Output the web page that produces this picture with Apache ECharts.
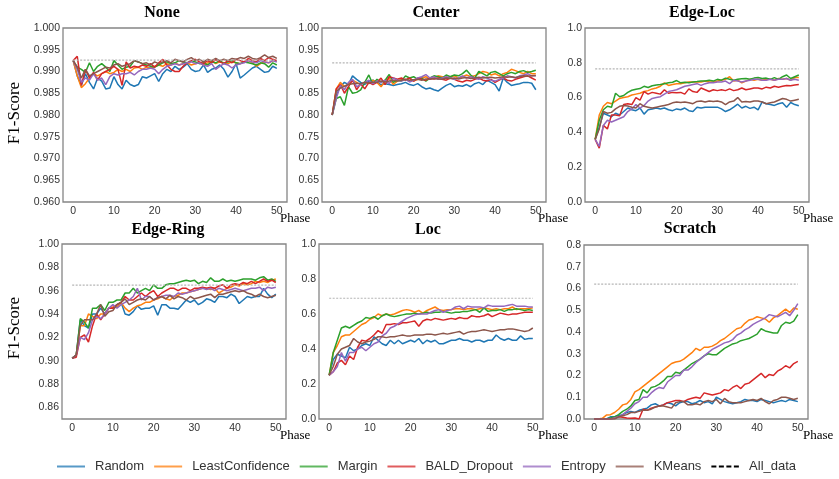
<!DOCTYPE html>
<html>
<head>
<meta charset="utf-8">
<script src="https://cdn.jsdelivr.net/npm/echarts@6/dist/echarts.min.js"></script>
<style>html,body{margin:0;padding:0;background:#fff;}#c{width:839px;height:479px;}</style>
</head>
<body>
<div id="c"></div>
<script>
// ---------- data ----------
const phases = Array.from({length: 51}, (_, i) => i);
const methods = ['Random', 'LeastConfidence', 'Margin', 'BALD_Dropout', 'Entropy', 'KMeans'];
const colors = ['#1f77b4', '#ff7f0e', '#2ca02c', '#d62728', '#9467bd', '#8c564b'];
const titles = ['None', 'Center', 'Edge-Loc', 'Edge-Ring', 'Loc', 'Scratch'];
const allData = [0.9926, 0.92, 0.765, 0.9648, 0.69, 0.62];

const noneRandom = [0.9925,0.9890,0.9868,0.9895,0.9875,0.9860,0.9885,0.9878,0.9860,0.9862,
0.9888,0.9870,0.9860,0.9880,0.9870,0.9866,0.9870,0.9888,0.9885,0.9890,
0.9895,0.9877,0.9895,0.9905,0.9900,0.9912,0.9905,0.9910,0.9918,0.9905,
0.9900,0.9902,0.9915,0.9898,0.9905,0.9908,0.9915,0.9905,0.9887,0.9900,
0.9918,0.9885,0.9892,0.9900,0.9908,0.9912,0.9905,0.9898,0.9900,0.9912,0.9907];
const noneLC = [0.9925,0.9890,0.9863,0.9872,0.9885,0.9895,0.9890,0.9895,0.9900,0.9895,
0.9898,0.9905,0.9900,0.9905,0.9900,0.9908,0.9910,0.9905,0.9910,0.9908,
0.9912,0.9915,0.9912,0.9918,0.9915,0.9920,0.9915,0.9918,0.9920,0.9915,
0.9918,0.9920,0.9915,0.9920,0.9925,0.9918,0.9922,0.9920,0.9918,0.9922,
0.9920,0.9918,0.9922,0.9925,0.9920,0.9912,0.9918,0.9922,0.9920,0.9925,0.9925];
const noneMargin = [0.9925,0.9910,0.9905,0.9898,0.9920,0.9900,0.9912,0.9918,0.9910,0.9900,
0.9925,0.9915,0.9905,0.9910,0.9912,0.9925,0.9922,0.9918,0.9915,0.9912,
0.9910,0.9915,0.9920,0.9922,0.9918,0.9920,0.9925,0.9922,0.9920,0.9925,
0.9922,0.9918,0.9920,0.9915,0.9922,0.9920,0.9925,0.9918,0.9922,0.9925,
0.9920,0.9918,0.9922,0.9920,0.9918,0.9915,0.9920,0.9918,0.9910,0.9920,0.9915];
const noneBALD = [0.9925,0.9935,0.9868,0.9905,0.9885,0.9898,0.9880,0.9895,0.9900,0.9905,
0.9912,0.9905,0.9868,0.9922,0.9908,0.9912,0.9910,0.9915,0.9912,0.9918,
0.9910,0.9920,0.9928,0.9915,0.9905,0.9900,0.9900,0.9912,0.9920,0.9925,
0.9928,0.9922,0.9918,0.9925,0.9920,0.9928,0.9922,0.9918,0.9925,0.9920,
0.9928,0.9925,0.9922,0.9930,0.9925,0.9922,0.9930,0.9925,0.9932,0.9928,0.9925];
const noneEntropy = [0.9925,0.9905,0.9875,0.9885,0.9880,0.9895,0.9880,0.9885,0.9870,0.9888,
0.9895,0.9892,0.9895,0.9895,0.9898,0.9892,0.9900,0.9905,0.9905,0.9908,
0.9905,0.9895,0.9905,0.9912,0.9915,0.9918,0.9915,0.9918,0.9920,0.9922,
0.9918,0.9920,0.9915,0.9912,0.9918,0.9905,0.9912,0.9918,0.9915,0.9908,
0.9915,0.9918,0.9920,0.9925,0.9922,0.9920,0.9925,0.9922,0.9920,0.9925,0.9922];
const noneKMeans = [0.9925,0.9910,0.9885,0.9905,0.9890,0.9895,0.9900,0.9905,0.9910,0.9908,
0.9915,0.9918,0.9912,0.9915,0.9918,0.9925,0.9922,0.9918,0.9920,0.9915,
0.9922,0.9918,0.9922,0.9925,0.9920,0.9928,0.9925,0.9922,0.9928,0.9932,
0.9925,0.9928,0.9922,0.9928,0.9925,0.9930,0.9925,0.9928,0.9925,0.9930,
0.9928,0.9932,0.9930,0.9935,0.9930,0.9928,0.9932,0.9938,0.9932,0.9935,0.9930];

const centerRandom = [0.80,0.845,0.865,0.875,0.870,0.890,0.882,0.875,0.870,0.878,
0.880,0.875,0.870,0.872,0.870,0.868,0.870,0.872,0.875,0.870,
0.868,0.872,0.865,0.860,0.862,0.858,0.855,0.862,0.868,0.872,
0.865,0.868,0.866,0.870,0.865,0.872,0.875,0.870,0.880,0.875,
0.870,0.855,0.885,0.875,0.868,0.870,0.872,0.875,0.875,0.873,0.858];
const centerLC = [0.80,0.860,0.875,0.865,0.872,0.880,0.875,0.870,0.876,0.872,
0.880,0.875,0.865,0.878,0.885,0.870,0.878,0.882,0.880,0.885,
0.878,0.882,0.885,0.888,0.882,0.885,0.890,0.888,0.885,0.888,
0.890,0.885,0.888,0.892,0.888,0.890,0.895,0.900,0.898,0.892,
0.895,0.890,0.895,0.898,0.905,0.902,0.898,0.895,0.900,0.895,0.895];
const centerMargin = [0.80,0.838,0.842,0.822,0.865,0.850,0.852,0.858,0.875,0.892,
0.870,0.882,0.875,0.880,0.893,0.875,0.880,0.878,0.890,0.885,
0.888,0.882,0.885,0.878,0.885,0.890,0.888,0.885,0.892,0.888,
0.892,0.890,0.895,0.903,0.892,0.885,0.900,0.895,0.890,0.898,
0.900,0.895,0.890,0.895,0.898,0.895,0.900,0.902,0.898,0.900,0.903];
const centerBALD = [0.80,0.860,0.870,0.850,0.865,0.880,0.858,0.872,0.860,0.875,
0.870,0.875,0.885,0.870,0.888,0.885,0.882,0.885,0.880,0.885,
0.878,0.885,0.882,0.880,0.885,0.883,0.885,0.882,0.880,0.885,
0.882,0.878,0.876,0.880,0.878,0.882,0.885,0.880,0.878,0.882,
0.875,0.880,0.885,0.880,0.878,0.882,0.885,0.888,0.890,0.885,0.880];
const centerEntropy = [0.80,0.838,0.868,0.858,0.875,0.882,0.865,0.870,0.875,0.880,
0.872,0.878,0.875,0.880,0.872,0.885,0.880,0.878,0.882,0.876,
0.880,0.885,0.888,0.893,0.885,0.888,0.882,0.885,0.888,0.885,
0.882,0.885,0.890,0.885,0.888,0.885,0.882,0.888,0.885,0.880,
0.878,0.882,0.885,0.890,0.888,0.885,0.890,0.892,0.895,0.890,0.890];
const centerKMeans = [0.80,0.855,0.862,0.866,0.870,0.872,0.873,0.872,0.875,0.874,
0.876,0.875,0.878,0.876,0.878,0.880,0.878,0.880,0.882,0.880,
0.881,0.882,0.880,0.883,0.882,0.884,0.883,0.882,0.885,0.884,
0.885,0.883,0.885,0.886,0.884,0.885,0.887,0.885,0.886,0.887,
0.885,0.886,0.888,0.887,0.888,0.886,0.888,0.890,0.889,0.890,0.891];

const edgeLocRandom = [0.36,0.43,0.51,0.50,0.49,0.51,0.50,0.52,0.54,0.53,
0.525,0.54,0.505,0.53,0.535,0.54,0.535,0.54,0.53,0.525,
0.535,0.53,0.54,0.525,0.52,0.545,0.54,0.545,0.545,0.545,
0.545,0.535,0.52,0.53,0.545,0.562,0.54,0.55,0.538,0.545,
0.53,0.575,0.565,0.56,0.555,0.565,0.57,0.545,0.572,0.56,0.553];
const edgeLocLC = [0.36,0.50,0.55,0.572,0.565,0.58,0.595,0.60,0.605,0.615,
0.62,0.625,0.635,0.64,0.65,0.655,0.665,0.685,0.67,0.675,
0.68,0.68,0.685,0.69,0.69,0.69,0.69,0.695,0.69,0.69,
0.695,0.70,0.705,0.72,0.695,0.70,0.685,0.695,0.705,0.70,
0.705,0.70,0.705,0.705,0.70,0.71,0.705,0.71,0.70,0.715,0.715];
const edgeLocMargin = [0.36,0.47,0.53,0.55,0.545,0.625,0.605,0.612,0.63,0.642,
0.648,0.652,0.665,0.658,0.668,0.672,0.675,0.68,0.685,0.688,
0.698,0.685,0.688,0.685,0.69,0.692,0.695,0.695,0.70,0.695,
0.705,0.70,0.712,0.705,0.70,0.705,0.708,0.71,0.705,0.712,
0.715,0.71,0.712,0.705,0.715,0.705,0.72,0.73,0.71,0.72,0.73];
const edgeLocBALD = [0.36,0.31,0.44,0.42,0.50,0.50,0.495,0.56,0.565,0.56,
0.60,0.585,0.635,0.62,0.63,0.625,0.62,0.645,0.625,0.63,
0.628,0.63,0.62,0.65,0.635,0.63,0.655,0.645,0.635,0.645,
0.64,0.645,0.64,0.65,0.64,0.645,0.655,0.645,0.65,0.655,
0.655,0.65,0.66,0.655,0.665,0.66,0.665,0.67,0.668,0.672,0.675];
const edgeLocEntropy = [0.36,0.32,0.44,0.47,0.46,0.47,0.48,0.49,0.52,0.535,
0.56,0.54,0.555,0.58,0.595,0.60,0.605,0.62,0.635,0.64,
0.645,0.655,0.665,0.67,0.675,0.68,0.67,0.68,0.685,0.685,
0.69,0.69,0.695,0.68,0.70,0.695,0.69,0.695,0.70,0.705,
0.705,0.70,0.70,0.705,0.70,0.705,0.705,0.71,0.70,0.705,0.70];
const edgeLocKMeans = [0.36,0.42,0.52,0.51,0.515,0.535,0.55,0.555,0.552,0.545,
0.54,0.565,0.55,0.545,0.54,0.545,0.55,0.555,0.56,0.57,
0.575,0.572,0.575,0.57,0.565,0.578,0.58,0.575,0.58,0.578,
0.58,0.575,0.56,0.575,0.58,0.60,0.575,0.578,0.575,0.58,
0.58,0.575,0.565,0.57,0.575,0.585,0.595,0.59,0.58,0.585,0.59];

const edgeRingRandom = [0.902,0.905,0.935,0.930,0.928,0.940,0.940,0.945,0.940,0.945,
0.945,0.948,0.950,0.940,0.939,0.942,0.947,0.944,0.945,0.945,
0.947,0.939,0.948,0.948,0.945,0.945,0.944,0.948,0.952,0.950,
0.952,0.948,0.950,0.953,0.952,0.950,0.955,0.955,0.954,0.957,
0.955,0.949,0.952,0.955,0.954,0.955,0.955,0.962,0.957,0.954,0.957];
const edgeRingLC = [0.902,0.905,0.930,0.930,0.940,0.938,0.936,0.940,0.940,0.945,
0.946,0.946,0.950,0.945,0.942,0.945,0.947,0.948,0.950,0.950,
0.952,0.953,0.955,0.953,0.952,0.955,0.956,0.958,0.958,0.959,
0.960,0.961,0.962,0.962,0.961,0.962,0.958,0.960,0.962,0.963,
0.965,0.964,0.966,0.965,0.966,0.968,0.967,0.968,0.967,0.969,0.970];
const edgeRingMargin = [0.902,0.905,0.936,0.933,0.928,0.945,0.945,0.948,0.943,0.950,
0.950,0.952,0.952,0.958,0.958,0.962,0.958,0.960,0.962,0.960,
0.965,0.962,0.962,0.965,0.966,0.966,0.967,0.968,0.969,0.968,
0.969,0.966,0.968,0.967,0.971,0.968,0.968,0.970,0.968,0.969,
0.968,0.969,0.970,0.970,0.970,0.969,0.971,0.972,0.969,0.970,0.968];
const edgeRingBALD = [0.902,0.903,0.920,0.922,0.916,0.930,0.940,0.935,0.940,0.945,
0.945,0.948,0.950,0.955,0.952,0.952,0.955,0.958,0.955,0.958,
0.960,0.955,0.958,0.960,0.962,0.962,0.960,0.962,0.962,0.960,
0.962,0.962,0.963,0.962,0.963,0.962,0.964,0.965,0.962,0.965,
0.966,0.965,0.967,0.966,0.968,0.966,0.968,0.970,0.968,0.969,0.967];
const edgeRingEntropy = [0.902,0.905,0.920,0.918,0.924,0.935,0.938,0.936,0.940,0.945,
0.948,0.945,0.948,0.950,0.952,0.955,0.962,0.952,0.955,0.955,
0.952,0.954,0.955,0.956,0.956,0.955,0.958,0.957,0.958,0.959,
0.960,0.961,0.962,0.961,0.962,0.960,0.962,0.961,0.960,0.961,
0.962,0.961,0.960,0.961,0.962,0.962,0.963,0.960,0.963,0.962,0.963];
const edgeRingKMeans = [0.902,0.905,0.930,0.935,0.935,0.935,0.940,0.948,0.938,0.942,
0.943,0.948,0.950,0.953,0.948,0.950,0.952,0.953,0.952,0.955,
0.952,0.954,0.955,0.953,0.956,0.953,0.955,0.954,0.952,0.955,
0.953,0.954,0.955,0.956,0.957,0.954,0.957,0.957,0.958,0.959,
0.960,0.959,0.960,0.958,0.957,0.955,0.957,0.955,0.954,0.955,0.956];

const locRandom = [0.25,0.34,0.37,0.36,0.35,0.41,0.39,0.40,0.42,0.43,
0.42,0.47,0.45,0.43,0.42,0.45,0.43,0.45,0.43,0.44,
0.45,0.44,0.46,0.43,0.45,0.44,0.45,0.43,0.43,0.44,
0.45,0.45,0.46,0.45,0.45,0.44,0.45,0.45,0.44,0.45,
0.45,0.48,0.46,0.45,0.46,0.45,0.45,0.475,0.455,0.46,0.46];
const locLC = [0.25,0.38,0.42,0.47,0.48,0.48,0.50,0.52,0.54,0.55,
0.57,0.58,0.60,0.59,0.60,0.595,0.60,0.61,0.62,0.625,
0.62,0.61,0.62,0.605,0.62,0.63,0.64,0.625,0.62,0.625,
0.625,0.63,0.63,0.625,0.63,0.63,0.625,0.63,0.635,0.63,
0.625,0.63,0.625,0.63,0.63,0.64,0.625,0.63,0.63,0.63,0.635];
const locMargin = [0.25,0.38,0.45,0.52,0.53,0.52,0.535,0.55,0.56,0.58,
0.575,0.585,0.57,0.59,0.60,0.59,0.585,0.59,0.595,0.60,
0.60,0.605,0.60,0.605,0.61,0.605,0.61,0.61,0.615,0.61,
0.605,0.61,0.61,0.615,0.615,0.62,0.625,0.61,0.635,0.615,
0.62,0.62,0.625,0.615,0.625,0.625,0.63,0.625,0.62,0.625,0.62];
const locBALD = [0.25,0.27,0.32,0.335,0.31,0.36,0.34,0.41,0.45,0.445,
0.46,0.48,0.505,0.49,0.54,0.54,0.545,0.54,0.55,0.55,
0.555,0.56,0.53,0.56,0.57,0.565,0.575,0.57,0.565,0.57,
0.575,0.57,0.58,0.575,0.575,0.59,0.585,0.585,0.59,0.60,
0.585,0.595,0.605,0.60,0.595,0.60,0.60,0.605,0.61,0.61,0.61];
const locEntropy = [0.25,0.27,0.30,0.38,0.33,0.38,0.38,0.40,0.41,0.39,
0.41,0.43,0.44,0.475,0.49,0.52,0.53,0.545,0.56,0.575,
0.585,0.595,0.60,0.60,0.60,0.61,0.62,0.625,0.61,0.62,
0.625,0.64,0.645,0.63,0.645,0.64,0.64,0.64,0.635,0.65,
0.645,0.645,0.645,0.645,0.65,0.655,0.645,0.645,0.645,0.64,0.64];
const locKMeans = [0.25,0.30,0.37,0.40,0.41,0.42,0.46,0.44,0.43,0.44,
0.445,0.455,0.47,0.47,0.465,0.47,0.47,0.475,0.48,0.475,
0.475,0.48,0.48,0.48,0.485,0.485,0.48,0.485,0.49,0.485,
0.49,0.495,0.50,0.485,0.495,0.50,0.50,0.505,0.51,0.505,
0.50,0.505,0.51,0.51,0.515,0.515,0.51,0.505,0.50,0.505,0.52];

const scratchRandom = [0,0,0,0,0.01,0.01,0.015,0.02,0.03,0.035,
0.03,0.04,0.045,0.05,0.065,0.07,0.06,0.065,0.075,0.07,
0.06,0.075,0.08,0.08,0.07,0.075,0.085,0.075,0.08,0.07,
0.10,0.09,0.08,0.075,0.07,0.075,0.08,0.09,0.085,0.085,
0.08,0.09,0.085,0.08,0.075,0.08,0.085,0.08,0.09,0.085,0.08];
const scratchLC = [0,0,0.003,0.018,0.02,0.03,0.045,0.065,0.07,0.09,
0.125,0.135,0.15,0.165,0.18,0.195,0.21,0.225,0.24,0.255,
0.262,0.265,0.275,0.29,0.305,0.325,0.315,0.33,0.33,0.335,
0.345,0.36,0.37,0.385,0.40,0.415,0.42,0.44,0.455,0.46,
0.47,0.465,0.46,0.445,0.465,0.475,0.49,0.505,0.49,0.51,0.505];
const scratchMargin = [0,0,0,0,0.005,0.01,0.02,0.035,0.045,0.06,
0.085,0.09,0.135,0.12,0.145,0.15,0.16,0.175,0.195,0.195,
0.215,0.21,0.225,0.24,0.255,0.265,0.275,0.29,0.30,0.295,
0.295,0.31,0.325,0.335,0.345,0.35,0.36,0.365,0.37,0.38,
0.39,0.415,0.405,0.40,0.395,0.395,0.43,0.445,0.44,0.45,0.48];
const scratchBALD = [0,0,0,0,0,0.005,0.01,0.008,0.005,0.003,
0.005,0,0.045,0.04,0.05,0.055,0.06,0.065,0.075,0.08,
0.085,0.085,0.08,0.09,0.095,0.10,0.095,0.12,0.115,0.11,
0.115,0.12,0.135,0.13,0.145,0.155,0.14,0.16,0.165,0.18,
0.195,0.21,0.19,0.205,0.20,0.22,0.23,0.245,0.235,0.255,0.265];
const scratchEntropy = [0,0,0,0,0,0.005,0.01,0.02,0.035,0.05,
0.07,0.08,0.10,0.10,0.12,0.135,0.145,0.14,0.17,0.185,
0.20,0.20,0.225,0.225,0.24,0.26,0.275,0.29,0.305,0.32,
0.33,0.34,0.35,0.355,0.365,0.385,0.395,0.41,0.42,0.435,
0.445,0.455,0.465,0.48,0.475,0.47,0.48,0.49,0.475,0.50,0.53];
const scratchKMeans = [0,0,0,0,0,0,0.01,0.015,0.02,0.03,
0.03,0.035,0.04,0.04,0.045,0.055,0.06,0.06,0.055,0.05,
0.075,0.08,0.08,0.065,0.065,0.07,0.065,0.08,0.085,0.08,
0.09,0.07,0.095,0.08,0.075,0.075,0.075,0.08,0.085,0.09,
0.085,0.095,0.08,0.07,0.085,0.09,0.10,0.10,0.095,0.09,0.095];

const xTicks = [0, 10, 20, 30, 40, 50];
const noneTicks = [0.960,0.965,0.970,0.975,0.980,0.985,0.990,0.995,1.000];
const centerTicks = [0.60,0.65,0.70,0.75,0.80,0.85,0.90,0.95,1.00];
const edgeLocTicks = [0.0,0.2,0.4,0.6,0.8,1.0];
const edgeRingTicks = [0.86,0.88,0.90,0.92,0.94,0.96,0.98,1.00];
const locTicks = [0.0,0.2,0.4,0.6,0.8,1.0];
const scratchTicks = [0.0,0.1,0.2,0.3,0.4,0.5,0.6,0.7,0.8];

// ---------- build ----------
const panels = [
  {series: [noneRandom, noneLC, noneMargin, noneBALD, noneEntropy, noneKMeans], ticks: noneTicks, min: 0.96, max: 1.0, dec: 3},
  {series: [centerRandom, centerLC, centerMargin, centerBALD, centerEntropy, centerKMeans], ticks: centerTicks, min: 0.6, max: 1.0, dec: 2},
  {series: [edgeLocRandom, edgeLocLC, edgeLocMargin, edgeLocBALD, edgeLocEntropy, edgeLocKMeans], ticks: edgeLocTicks, min: 0, max: 1.0, dec: 1},
  {series: [edgeRingRandom, edgeRingLC, edgeRingMargin, edgeRingBALD, edgeRingEntropy, edgeRingKMeans], ticks: edgeRingTicks, min: 0.85, max: 1.0, dec: 2},
  {series: [locRandom, locLC, locMargin, locBALD, locEntropy, locKMeans], ticks: locTicks, min: 0, max: 1.0, dec: 1},
  {series: [scratchRandom, scratchLC, scratchMargin, scratchBALD, scratchEntropy, scratchKMeans], ticks: scratchTicks, min: 0, max: 0.8, dec: 1}
];
const gridPos = [
  {left: 63, top: 28, width: 224, height: 174},
  {left: 322, top: 28, width: 224, height: 174},
  {left: 585, top: 28, width: 224, height: 174},
  {left: 62, top: 244, width: 224, height: 175},
  {left: 319, top: 244, width: 224, height: 175},
  {left: 584, top: 245, width: 224, height: 174}
];
const titlePos = [[162, 13], [436, 13], [702, 13], [168, 230], [428, 230], [690, 229]];
const phasePos = [[280, 219], [538, 219], [803, 219], [280, 436], [538, 436], [803, 436]];

const labelStyle = {fontFamily: 'Liberation Sans', fontSize: 10.5, color: '#333'};
const grids = [], xAxes = [], yAxes = [], series = [], graphics = [];
panels.forEach((p, i) => {
  grids.push(Object.assign({show: true, borderColor: '#858585', borderWidth: 1.3, backgroundColor: '#fff'}, gridPos[i]));
  xAxes.push({
    type: 'value', gridIndex: i, min: -2.5, max: 52.5,
    axisLine: {show: false}, splitLine: {show: false},
    axisTick: {show: false},
    axisLabel: Object.assign({customValues: xTicks, margin: 4}, labelStyle)
  });
  yAxes.push({
    type: 'value', gridIndex: i, min: p.min, max: p.max,
    axisLine: {show: false}, splitLine: {show: false},
    axisTick: {show: false},
    axisLabel: Object.assign({customValues: p.ticks, margin: 3, formatter: v => v.toFixed(p.dec)}, labelStyle)
  });
  p.series.forEach((arr, j) => {
    series.push({
      type: 'line', name: methods[j], xAxisIndex: i, yAxisIndex: i,
      data: arr.map((v, k) => [phases[k], v]),
      symbol: 'none', lineStyle: {width: 1.5, color: colors[j]}, itemStyle: {color: colors[j]},
      animation: false, z: 2 + j
    });
  });
  series.push({
    type: 'line', name: 'All_data', xAxisIndex: i, yAxisIndex: i,
    data: [[phases[0], allData[i]], [phases[50], allData[i]]],
    symbol: 'none', lineStyle: {width: 1.2, color: '#b5b5b5', type: [2, 1.5]}, itemStyle: {color: '#000'},
    animation: false, z: 10
  });
  graphics.push({type: 'text', x: titlePos[i][0], y: titlePos[i][1],
    style: {text: titles[i], font: 'bold 16px "Liberation Serif"', fill: '#000', textAlign: 'center', textVerticalAlign: 'middle'}});
  graphics.push({type: 'text', x: phasePos[i][0], y: phasePos[i][1],
    style: {text: 'Phase', font: '13px "Liberation Serif"', fill: '#000', textAlign: 'left', textVerticalAlign: 'middle'}});
});
graphics.push({type: 'text', x: 15, y: 113, rotation: Math.PI / 2,
  style: {text: 'F1-Score', font: '17px "Liberation Serif"', fill: '#000', textAlign: 'center', textVerticalAlign: 'middle'}});
graphics.push({type: 'text', x: 15, y: 328, rotation: Math.PI / 2,
  style: {text: 'F1-Score', font: '17px "Liberation Serif"', fill: '#000', textAlign: 'center', textVerticalAlign: 'middle'}});

const legendData = methods.map((m, j) => ({name: m, icon: 'rect', itemStyle: {color: colors[j], opacity: 0.75}}));
legendData.push({name: 'All_data', icon: 'path://M0,0h5v2h-5z M7.5,0h5v2h-5z M15,0h5v2h-5z M22.5,0h5v2h-5z', itemStyle: {color: '#000'}});

const chart = echarts.init(document.getElementById('c'), null, {renderer: 'canvas'});
chart.setOption({
  backgroundColor: '#fff',
  animation: false,
  textStyle: {fontFamily: 'Liberation Sans'},
  grid: grids, xAxis: xAxes, yAxis: yAxes, series: series,
  graphic: graphics,
  legend: {
    data: legendData, left: 52, top: 455, itemWidth: 28, itemHeight: 2, itemGap: 10,
    textStyle: {fontFamily: 'Liberation Sans', fontSize: 13, color: '#333', padding: [0, 0, 0, 5]}
  }
});
</script>
</body>
</html>
